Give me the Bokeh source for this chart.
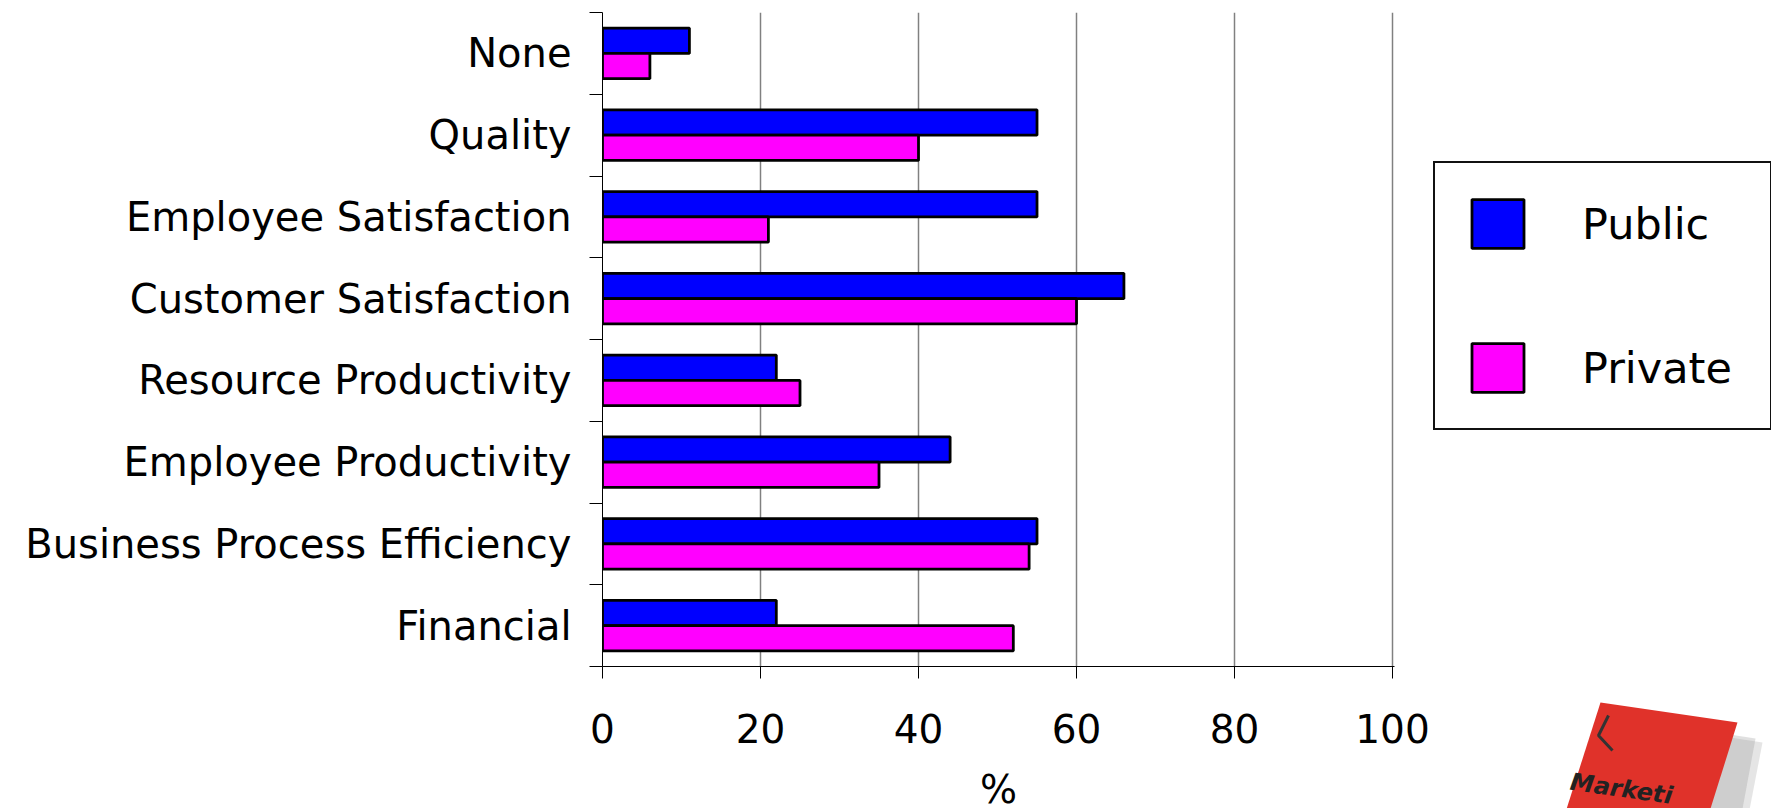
from bokeh.plotting import figure
from bokeh.models import (ColumnDataSource, Range1d, FixedTicker, Legend, LegendItem, Label)
from bokeh.transform import dodge
from bokeh.embed import file_html
from bokeh.resources import INLINE

# Survey results (%), listed bottom to top
categories = ["Financial", "Business Process Efficiency", "Employee Productivity",
              "Resource Productivity", "Customer Satisfaction", "Employee Satisfaction",
              "Quality", "None"]
public = [22, 55, 44, 22, 66, 55, 55, 11]
private = [52, 54, 35, 25, 60, 21, 40, 6]
x_ticks = [0, 20, 40, 60, 80, 100]

FONT = "DejaVu Sans"

source = ColumnDataSource(dict(pos=list(range(len(categories))),
                               cat=categories, public=public, private=private))

p = figure(frame_width=792, frame_height=654, output_backend="svg", toolbar_location=None,
           x_range=Range1d(0, 100.25), y_range=Range1d(-0.5, len(categories) - 0.5),
           min_border_left=602, min_border_right=0, min_border_top=12,
           min_border_bottom=142)
p.outline_line_color = None
p.background_fill_color = "white"
p.border_fill_color = "white"

bar_h = 0.31
r_pub = p.hbar(y=dodge("pos", bar_h / 2), right="public", left=0, height=bar_h,
               source=source, fill_color="#0000FF", line_color="black", line_width=2.8)
r_priv = p.hbar(y=dodge("pos", -bar_h / 2), right="private", left=0, height=bar_h,
                source=source, fill_color="#FF00FF", line_color="black", line_width=2.8)

# x axis
xa = p.xaxis[0]
xa.ticker = FixedTicker(ticks=x_ticks)
xa.major_tick_out = 12
xa.major_tick_in = 0
xa.minor_tick_out = 0
xa.minor_tick_in = 0
xa.axis_line_color = "black"
xa.major_tick_line_color = "black"
xa.major_label_text_font = FONT
xa.major_label_text_font_size = "39px"
xa.major_label_text_color = "black"
xa.major_label_standoff = 35
xa.axis_label = "%"
xa.axis_label_text_font = FONT
xa.axis_label_text_font_size = "39px"
xa.axis_label_text_font_style = "normal"
xa.axis_label_text_color = "black"
xa.axis_label_standoff = 21

# y axis: labels at category centres, ticks at the boundaries between them
ya = p.yaxis[0]
ya.ticker = FixedTicker(ticks=list(range(len(categories))),
                        minor_ticks=[i - 0.5 for i in range(len(categories) + 1)])
ya.major_label_overrides = {i: c for i, c in enumerate(categories)}
ya.major_tick_out = 0
ya.major_tick_in = 0
ya.minor_tick_out = 13
ya.minor_tick_in = 0
ya.minor_tick_line_color = "black"
ya.axis_line_color = "black"
ya.major_label_text_font = FONT
ya.major_label_text_font_size = "40px"
ya.major_label_text_color = "black"
ya.major_label_standoff = 18

p.ygrid.grid_line_color = None
p.xgrid.ticker = FixedTicker(ticks=x_ticks[1:])
p.xgrid.grid_line_color = "#808080"
p.xgrid.grid_line_width = 1.5

legend = Legend(items=[LegendItem(label="Public", renderers=[r_pub]),
                       LegendItem(label="Private", renderers=[r_priv])],
                location=(39, 236), orientation="vertical",
                glyph_width=65, glyph_height=61, label_height=61, label_width=158,
                label_standoff=52, spacing=83, padding=30, margin=0,
                label_text_font=FONT, label_text_font_size="43px",
                label_text_color="black",
                border_line_color="#111111", border_line_width=2, border_line_alpha=1.0,
                background_fill_color="white", background_fill_alpha=1.0)
p.add_layout(legend, "right")

# publisher badge in the lower right corner, laid over the chart
badge = figure(frame_width=231, frame_height=128, output_backend="svg",
               toolbar_location=None, x_axis_location=None, y_axis_location=None,
               x_range=Range1d(0, 231), y_range=Range1d(128, 0),
               min_border=0, outline_line_color=None, sizing_mode="fixed",
               styles={"position": "absolute", "left": "1540px", "top": "680px"})
badge.grid.visible = False
badge.background_fill_alpha = 0
badge.border_fill_alpha = 0
badge.patch([78, 222, 205, 60], [40, 62, 150, 150], fill_color="#999999",
            fill_alpha=0.25, line_color=None)
badge.patch([72, 215, 198, 55], [36, 58, 150, 150], fill_color="#999999",
            fill_alpha=0.3, line_color=None)
badge.patch([60, 197, 160, 16], [22, 42, 160, 160], fill_color="#E0322A",
            line_color=None)
badge.line([68, 58, 72], [35, 55, 70], line_color="#333333", line_width=3)
badge.add_layout(Label(x=28, y=115, text="Marketi", angle=-0.14, text_font=FONT,
                       text_font_size="24px", text_font_style="bold italic",
                       text_color="#222222", text_baseline="bottom"))

open("out.html", "w").write(file_html([p, badge], INLINE))
